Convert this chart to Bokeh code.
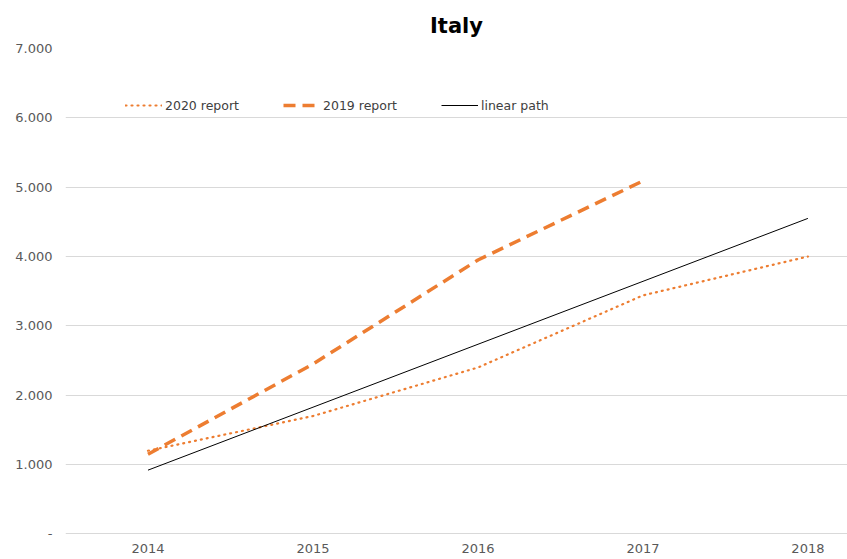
from bokeh.plotting import figure
from bokeh.models import FixedTicker, Range1d, Legend, LegendItem
from bokeh.embed import file_html
from bokeh.resources import INLINE

chart_title = "Italy"
years = [2014, 2015, 2016, 2017, 2018]
report_2020 = [1200, 1700, 2400, 3440, 4000]
years_2019 = [2014, 2015, 2016, 2017]
report_2019 = [1150, 2450, 3950, 5090]
years_linear = [2014, 2018]
linear_path = [920, 4550]
y_ticks = [0, 1000, 2000, 3000, 4000, 5000, 6000, 7000]
y_tick_labels = ["-", "1.000", "2.000", "3.000", "4.000", "5.000", "6.000", "7.000"]

ORANGE = "#ED7D31"
GRAY = "#595959"

p = figure(width=847, height=559, output_backend="svg", toolbar_location=None,
           x_range=Range1d(2013.5, 2018.24), y_range=Range1d(-8, 7000),
           min_border_left=65, min_border_right=0, min_border_top=48, min_border_bottom=25)
p.outline_line_color = None
p.background_fill_color = "white"

p.title.text = chart_title
p.title.align = "center"
p.title.text_font = "DejaVu Sans"
p.title.text_font_size = "21px"
p.title.text_font_style = "bold"
p.title.text_color = "#000000"
p.title.standoff = 21

r1 = p.line(years, report_2020, line_color=ORANGE, line_width=2.2, line_dash="1 5", line_cap="round")
r2 = p.line(years_2019, report_2019, line_color=ORANGE, line_width=3.5, line_dash="12 7")
r3 = p.line(years_linear, linear_path, line_color="#000000", line_width=1)

p.xaxis.ticker = FixedTicker(ticks=years)
p.xaxis.axis_line_color = None
p.xaxis.major_tick_line_color = None
p.xaxis.minor_tick_line_color = None
p.xaxis.major_tick_in = 0
p.xaxis.major_tick_out = 0
p.xaxis.major_label_standoff = 9
p.xaxis.major_label_text_font = "DejaVu Sans"
p.xaxis.major_label_text_font_size = "13px"
p.xaxis.major_label_text_color = GRAY

p.yaxis.ticker = FixedTicker(ticks=y_ticks)
p.yaxis.major_label_overrides = {t: l for t, l in zip(y_ticks, y_tick_labels)}
p.yaxis.axis_line_color = None
p.yaxis.major_tick_line_color = None
p.yaxis.minor_tick_line_color = None
p.yaxis.major_tick_in = 0
p.yaxis.major_tick_out = 0
p.yaxis.major_label_standoff = 13
p.yaxis.major_label_text_font = "DejaVu Sans"
p.yaxis.major_label_text_font_size = "13px"
p.yaxis.major_label_text_color = GRAY

p.xgrid.grid_line_color = None
p.ygrid.ticker = FixedTicker(ticks=y_ticks)
p.ygrid.grid_line_color = "#D9D9D9"
p.ygrid.grid_line_width = 1

legend = Legend(items=[LegendItem(label="2020 report", renderers=[r1]),
                       LegendItem(label="2019 report", renderers=[r2]),
                       LegendItem(label="linear path", renderers=[r3])],
                orientation="horizontal", location=(60, 419),
                glyph_width=37, glyph_height=20, label_height=20, label_width=118,
                label_standoff=3, spacing=0, padding=0, margin=0,
                border_line_color=None, background_fill_alpha=0,
                label_text_font="DejaVu Sans", label_text_font_size="12.5px",
                label_text_color="#404040")
p.add_layout(legend)

open("out.html", "w").write(file_html(p, INLINE))
